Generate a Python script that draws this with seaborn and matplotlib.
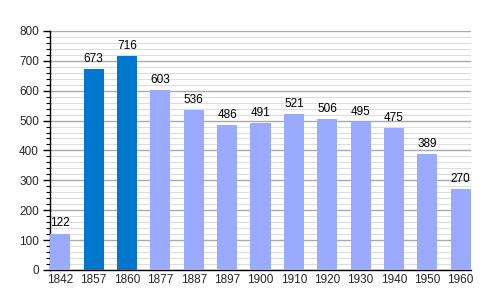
import matplotlib
matplotlib.use("Agg")
import matplotlib.pyplot as plt
import seaborn as sns
import pandas as pd
from matplotlib.ticker import MultipleLocator

years = ["1842", "1857", "1860", "1877", "1887", "1897", "1900", "1910", "1920", "1930", "1940", "1950", "1960"]
population = [122, 673, 716, 603, 536, 486, 491, 521, 506, 495, 475, 389, 270]
highlight = ["1857", "1860"]

DARK = "#0077CC"
LIGHT = "#99AAFF"

df = pd.DataFrame({"year": years, "pop": population})
palette = {y: (DARK if y in highlight else LIGHT) for y in years}

sns.set_style("white")
plt.rcParams['font.family'] = ['Liberation Sans', 'DejaVu Sans']

fig = plt.figure(figsize=(5, 3), dpi=100)
ax = fig.add_axes([0.1, 0.1, 0.842, 0.797])

sns.barplot(data=df, x="year", y="pop", hue="year", palette=palette,
            legend=False, width=0.6, ax=ax, saturation=1, zorder=3,
            linewidth=0, edgecolor="none")

ax.set_ylim(0, 800)
ax.set_xlim(-0.31, 12.31)
ax.yaxis.set_major_locator(MultipleLocator(100))
ax.yaxis.set_minor_locator(MultipleLocator(20))
ax.grid(which="major", axis="y", color="#aaaaaa", linewidth=1, zorder=0)
ax.grid(which="minor", axis="y", color="#dddddd", linewidth=0.8, zorder=0)
ax.set_axisbelow(True)

for s in ["top", "right"]:
    ax.spines[s].set_visible(False)
ax.spines["left"].set_color("black")
ax.spines["bottom"].set_color("black")
ax.spines["left"].set_linewidth(1)
ax.spines["bottom"].set_linewidth(1)

ax.tick_params(axis="y", which="major", length=5, width=1, color="black", labelsize=8.5, left=True, pad=3)
ax.tick_params(axis="y", which="minor", length=3, width=0.8, color="black", left=True)
ax.tick_params(axis="x", length=0, labelsize=8.5, pad=3)
ax.set_xlabel("")
ax.set_ylabel("")

for i, v in enumerate(population):
    ax.text(i, v + 14, str(v), ha="center", va="bottom", fontsize=8.5, color="black")

fig.savefig("out.png", dpi=100)
